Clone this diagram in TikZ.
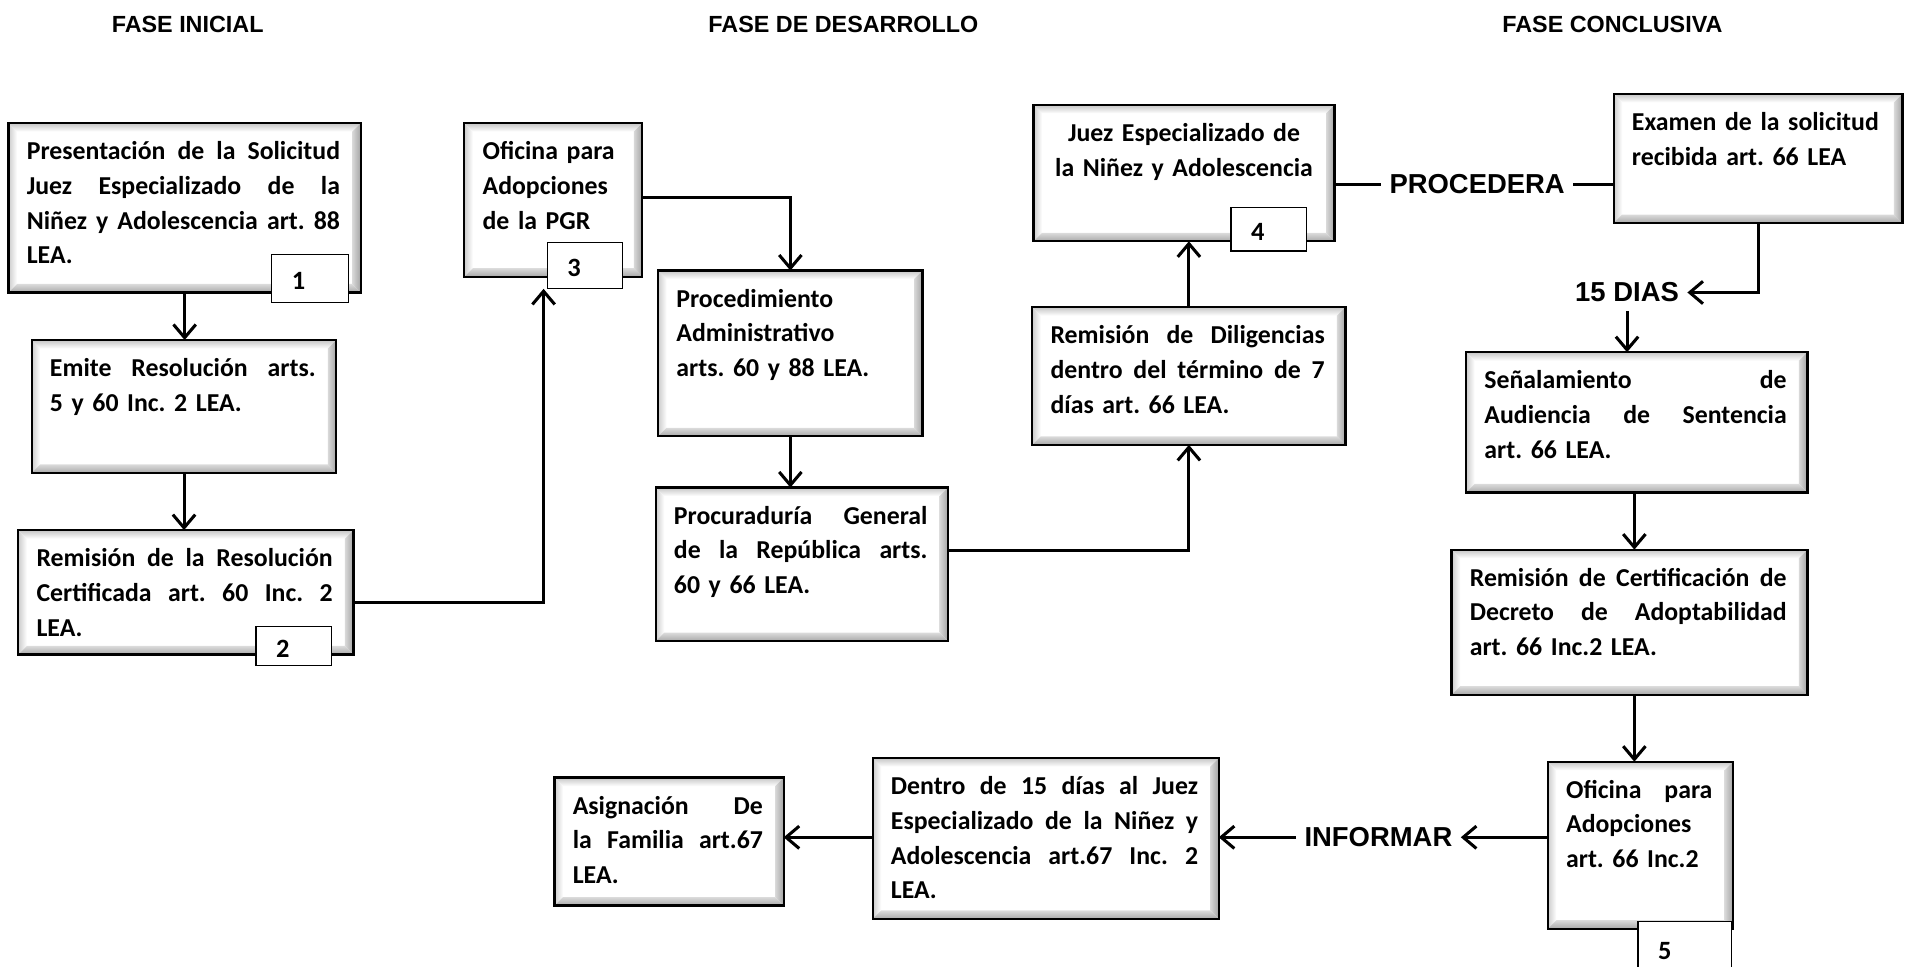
\documentclass[tikz,border=0pt]{standalone}
\usepackage{fontspec}
\setmainfont{Carlito}
\newfontfamily\arialf{Liberation Sans}
\usetikzlibrary{arrows.meta,fit,calc}
\newlength\jw
\newcommand\jl[1]{\makebox[\jw][s]{\spaceskip=0.226em plus 1fil minus 0.1em\relax\xspaceskip=\spaceskip #1}}
\tikzset{
 boxtxt/.style={font=\bfseries\fontsize{12.7}{17.1}\selectfont, inner sep=0pt, outer sep=0pt, anchor=north west},
 arr/.style={line width=1.5pt, -{Straight Barb[length=6.5pt,width=11pt,line width=1.5pt]}},
 conn/.style={line width=1.5pt},
 lbl/.style={font=\arialf\bfseries\fontsize{13.5}{16}\selectfont, inner sep=4pt},
 hdr/.style={font=\arialf\bfseries\fontsize{11.5}{14}\selectfont, inner sep=0pt},
 numbox/.style={draw, line width=0.6pt, fill=white, inner sep=0pt, outer sep=0pt},
 numtxt/.style={font=\bfseries\fontsize{13}{16}\selectfont, inner sep=0pt},
 bevborder/.style={line width=1.1pt},
}
% #1 name, #2-#5 corners, #6 align, #7 margin (units), #8 text
\newcommand\bevbox[8]{%
 \coordinate (#1-p) at (#2,#3); \coordinate (#1-q) at (#4,#5);
 \node[fit=(#1-p)(#1-q), inner sep=0pt, outer sep=0pt] (#1) {};
 \fill[white] (#1.north west) rectangle (#1.south east);
 \shade[top color=gray!45, bottom color=white] (#1.north west) -- (#1.north east) -- ([shift={(-7,7)}]#1.north east) -- ([shift={(7,7)}]#1.north west) -- cycle;
 \shade[left color=gray!40, right color=white] (#1.north west) -- ([shift={(7,7)}]#1.north west) -- ([shift={(7,-7)}]#1.south west) -- (#1.south west) -- cycle;
 \shade[left color=gray!30, right color=gray!72] (#1.north east) -- (#1.south east) -- ([shift={(-7,-7)}]#1.south east) -- ([shift={(-7,7)}]#1.north east) -- cycle;
 \shade[top color=gray!28, bottom color=gray!68] (#1.south west) -- (#1.south east) -- ([shift={(-7,-7)}]#1.south east) -- ([shift={(7,-7)}]#1.south west) -- cycle;
 \draw[bevborder] (#1.north west) rectangle (#1.south east);
 \pgfmathsetlengthmacro\btw{(#4-#2-#7)*0.6pt}%
 \setlength\jw{\btw}%
 \node[boxtxt, text width=\btw, align=#6] (#1-t) at ([shift={(15,10)}]#1.north west) {\frenchspacing\strut #8};
}
% number label: #1 name, #2-#5 corners, #6 number
\newcommand\numlab[6]{%
 \coordinate (#1-p) at (#2,#3); \coordinate (#1-q) at (#4,#5);
 \node[fit=(#1-p)(#1-q), numbox] (#1) {};
 \node[numtxt] (#1-t) at ([shift={(22,2)}]#1.west) {#6};
}
\begin{document}
\begin{tikzpicture}[x=0.6pt,y=-0.6pt]
\fill[white] (0,0) rectangle (1568,793.4);
\useasboundingbox (0,0) rectangle (1568,793.4);

% headers
\node[hdr] (h1) at (154,20) {FASE INICIAL};
\node[hdr] (h2) at (692,20) {FASE DE DESARROLLO};
\node[hdr] (h3) at (1323,20) {FASE CONCLUSIVA};

% boxes
\bevbox{b1}{7}{101}{296}{240}{left}{32}{\jl{Presentación de la Solicitud}\\\jl{Juez Especializado de la}\\\jl{Niñez y Adolescencia art. 88}\\LEA.}
\bevbox{b2}{26}{279}{276}{388}{left}{32}{\jl{Emite Resolución arts.}\\5 y 60 Inc. 2 LEA.}
\bevbox{b3}{15}{435}{290}{537}{left}{32}{\jl{Remisión de la Resolución}\\\jl{Certificada art. 60 Inc. 2}\\LEA.}
\bevbox{pgr}{381}{101}{527}{227}{left}{18}{Oficina para\\Adopciones\\de la PGR}
\bevbox{proc}{540}{222}{757}{358}{left}{18}{Procedimiento\\Administrativo\\arts. 60 y 88 LEA.}
\bevbox{procu}{538}{400}{778}{526}{left}{32}{\jl{Procuraduría General}\\\jl{de la República arts.}\\60 y 66 LEA.}
\bevbox{dil}{847}{252}{1104}{365}{left}{32}{\jl{Remisión de Diligencias}\\\jl{dentro del término de 7}\\días art. 66 LEA.}
\bevbox{juez}{848}{86}{1095}{198}{center}{30}{Juez Especializado de\\la Niñez y Adolescencia}
\bevbox{exam}{1324}{77}{1561}{183}{left}{18}{Examen de la solicitud\\recibida art. 66 LEA}
\bevbox{sen}{1203}{289}{1483}{404}{left}{32}{\jl{Señalamiento de}\\\jl{Audiencia de Sentencia}\\art. 66 LEA.}
\bevbox{rc}{1191}{451}{1483}{570}{left}{32}{\jl{Remisión de Certificación de}\\\jl{Decreto de Adoptabilidad}\\art. 66 Inc.2 LEA.}
\bevbox{ofa}{1270}{625}{1422}{762}{left}{32}{\jl{Oficina para}\\Adopciones\\art. 66 Inc.2}
\bevbox{dentro}{716}{622}{1000}{754}{left}{32}{\jl{Dentro de 15 días al Juez}\\\jl{Especializado de la Niñez y}\\\jl{Adolescencia art.67 Inc. 2}\\LEA.}
\bevbox{asig}{455}{638}{643}{743}{left}{32}{\jl{Asignación De}\\\jl{la Familia art.67}\\LEA.}

% number labels
\numlab{n1}{223}{209}{286}{248}{1}
\numlab{n2}{210}{514}{272}{546}{2}
\numlab{n3}{449}{199}{511}{237}{3}
\numlab{n4}{1010}{170}{1072}{206}{4}
\numlab{n5}{1344}{756}{1421}{800}{5}

% text labels
\node[lbl] (procedera) at (1212,151) {PROCEDERA};
\node[lbl] (dias) at (1335,240) {15 DIAS};
\node[lbl] (inf) at (1131,687) {INFORMAR};

% helper coordinates
\coordinate (y3) at (0,494);
\coordinate (c3) at (446,494);
\coordinate (ypgr) at (0,162);
\coordinate (yprocu) at (0,452);
\coordinate (xr) at (1341,0);

% connectors
\draw[arr] (b1.south) -- (b1.south |- b2.north);
\draw[arr] (b2.south) -- (b2.south |- b3.north);
\draw[arr] (b3.east |- y3) -- (c3) -- (c3 |- n3.south);
\draw[arr] (pgr.east |- ypgr) -| (proc.north);
\draw[arr] (proc.south) -- (proc.south |- procu.north);
\draw[arr] (procu.east |- yprocu) -| (dil.south);
\draw[arr] (dil.north) -- (dil.north |- juez.south);
\draw[conn] (juez.east |- procedera) -- (procedera.west);
\draw[conn] (procedera.east) -- (exam.west |- procedera);
\draw[arr] (exam.south) |- (dias.east);
\draw[arr] (dias.south) -- (dias.south |- sen.north);
\draw[arr] (xr |- sen.south) -- (xr |- rc.north);
\draw[arr] (xr |- rc.south) -- (xr |- ofa.north);
\draw[arr] (ofa.west |- inf) -- (inf.east);
\draw[arr] (inf.west) -- (dentro.east |- inf);
\draw[arr] (dentro.west |- inf) -- (asig.east |- inf);
\end{tikzpicture}
\end{document}
